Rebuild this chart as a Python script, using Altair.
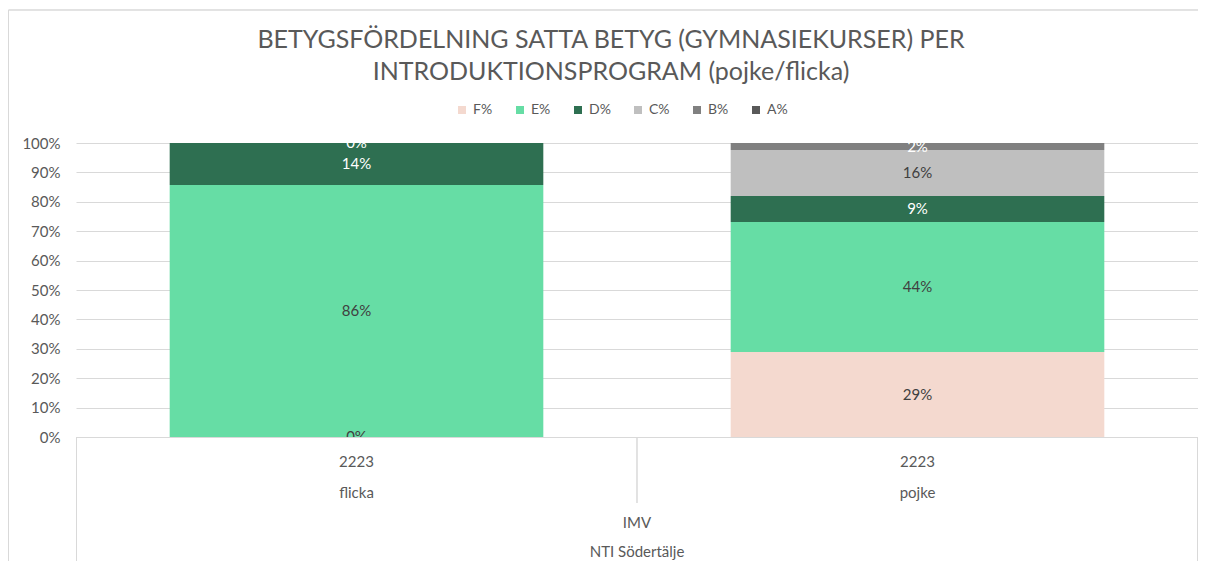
import altair as alt
import pandas as pd

categories = ["flicka", "pojke"]
years = ["2223", "2223"]
grades = ["F%", "E%", "D%", "C%", "B%", "A%"]
colors = ["#F4D9CF", "#66DDA5", "#2E6F51", "#BFBFBF", "#808080", "#595959"]
label_colors = ["#404040", "#404040", "#FFFFFF", "#404040", "#FFFFFF", "#FFFFFF"]
flicka_values = [0, 85.7, 14.3, None, 0, None]
pojke_values = [28.9, 44.2, 8.9, 15.6, 2.4, None]
program = "IMV"
school = "NTI Södertälje"

rows = []
for cat, vals in zip(categories, [flicka_values, pojke_values]):
    for i, (g, v) in enumerate(zip(grades, vals)):
        if v is None:
            continue
        rows.append({"cat": cat, "grade": g, "order": i, "value": v,
                     "lc": label_colors[i]})
df = pd.DataFrame(rows)
cat_df = pd.DataFrame({"cat": categories, "year": years})

W, H = 1122, 294
FONT = "Lato"
GRAY = "#595959"
FS = 15

xenc = alt.X("cat:N", sort=categories,
             scale=alt.Scale(paddingInner=0.334, paddingOuter=0.167),
             axis=alt.Axis(labels=False, ticks=False, domain=False, title=None))

base = alt.Chart(df).transform_stack(
    stack="value", groupby=["cat"], as_=["y0", "y1"],
    sort=[alt.SortField("order", order="ascending")]
).transform_calculate(
    mid="(datum.y0 + datum.y1) / 2",
    label="format(datum.value / 100, '.0%')"
)

yscale = alt.Scale(domain=[0, 100], nice=False, zero=True)
yaxis = alt.Axis(values=list(range(0, 101, 10)), labelExpr="datum.value + '%'",
                 title=None, ticks=False, domain=False, labelPadding=16,
                 labelOverlap=False, labelFontSize=FS, labelColor=GRAY,
                 labelFont=FONT, gridColor="#D9D9D9", gridWidth=1)

bars = base.mark_bar().encode(
    x=xenc,
    y=alt.Y("y0:Q", scale=yscale, axis=yaxis),
    y2="y1:Q",
    color=alt.Color("grade:N", scale=alt.Scale(domain=grades, range=colors),
                    legend=alt.Legend(title=None, orient="none", direction="horizontal",
                                      legendX=379, legendY=-40, symbolType="square",
                                      symbolSize=64, symbolStrokeWidth=0,
                                      labelFontSize=14, labelColor=GRAY, labelFont=FONT,
                                      columnPadding=20, symbolOffset=0)),
)

labels = base.mark_text(fontSize=FS, font=FONT, baseline="middle", clip=True).encode(
    x=xenc,
    y=alt.Y("mid:Q", scale=yscale, axis=yaxis),
    text="label:N",
    color=alt.Color("lc:N", scale=None),
)

year_text = alt.Chart(cat_df).mark_text(fontSize=FS, font=FONT, color=GRAY, baseline="middle").encode(
    x=xenc, y=alt.value(H + 25), text="year:N")
cat_text = alt.Chart(cat_df).mark_text(fontSize=FS, font=FONT, color=GRAY, baseline="middle").encode(
    x=xenc, y=alt.value(H + 56), text="cat:N")

lvl_df = pd.DataFrame({"t": [program, school], "yy": [H + 86, H + 115]})
lvl_text = alt.Chart(lvl_df).mark_text(fontSize=FS, font=FONT, color=GRAY, baseline="middle").encode(
    x=alt.value(W / 2), y=alt.Y("yy:Q", scale=None), text="t:N")

line_col = "#D9D9D9"
div = alt.Chart(cat_df).mark_rule(color=line_col).encode(
    x=alt.value(W / 2), y=alt.value(H), y2=alt.value(H + 66))
left_box = alt.Chart(cat_df).mark_rule(color=line_col).encode(
    x=alt.value(0.5), y=alt.value(H), y2=alt.value(H + 130))
right_box = alt.Chart(cat_df).mark_rule(color=line_col).encode(
    x=alt.value(W - 0.5), y=alt.value(H), y2=alt.value(H + 130))
frame_left = alt.Chart(cat_df).mark_rule(color=line_col).encode(
    x=alt.value(-67.5), y=alt.value(-133), y2=alt.value(H + 130))
frame_top = alt.Chart(cat_df).mark_rule(color=line_col).encode(
    x=alt.value(-67.5), x2=alt.value(W + 10), y=alt.value(-133))

chart = alt.layer(bars, labels, year_text, cat_text, lvl_text, div, left_box, right_box,
                  frame_left, frame_top).properties(
    width=W, height=H,
    padding={"left": 68, "top": 135, "right": 0, "bottom": 124},
    autosize=alt.AutoSizeParams(type="none"),
    title=alt.Title(["BETYGSFÖRDELNING SATTA BETYG (GYMNASIEKURSER) PER",
                     "INTRODUKTIONSPROGRAM (pojke/flicka)"],
                    anchor="middle", fontSize=25, lineHeight=32, color=GRAY,
                    font=FONT, fontWeight="normal", offset=-75, dx=-26),
).configure_view(stroke=None)

chart.save("out.html", embed_options={"renderer": "svg", "actions": False})
